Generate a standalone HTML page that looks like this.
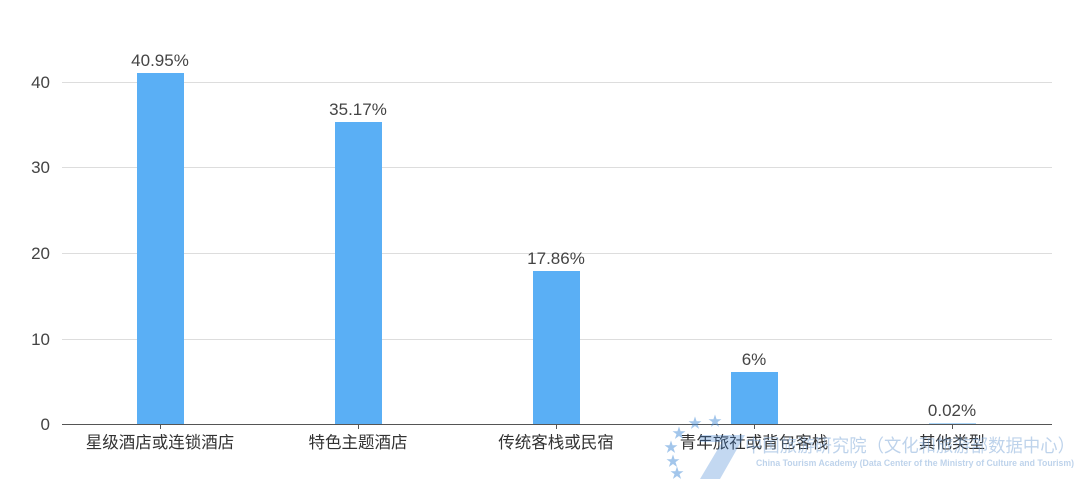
<!DOCTYPE html>
<html><head><meta charset="utf-8"><style>
html,body{margin:0;padding:0;background:#fff;}
svg{display:block;font-family:"Liberation Sans","Noto Sans CJK SC",sans-serif;}
</style></head><body>
<svg width="1080" height="479" viewBox="0 0 1080 479" xmlns="http://www.w3.org/2000/svg">
<g stroke="#dddddd" stroke-width="1">
<line x1="62" y1="82.5" x2="1052" y2="82.5"/>
<line x1="62" y1="167.5" x2="1052" y2="167.5"/>
<line x1="62" y1="253.5" x2="1052" y2="253.5"/>
<line x1="62" y1="339.5" x2="1052" y2="339.5"/>
</g>
<g font-size="17" fill="#444" text-anchor="end">
<text x="50" y="430">0</text>
<text x="50" y="345">10</text>
<text x="50" y="259">20</text>
<text x="50" y="173">30</text>
<text x="50" y="88">40</text>
</g>
<g fill="#5aaff5">
<rect x="137" y="73" width="47" height="351"/>
<rect x="335" y="122" width="47" height="302"/>
<rect x="533" y="271" width="47" height="153"/>
<rect x="731" y="372" width="47" height="52"/>
<rect x="929" y="423.5" width="47" height="0.5"/>
</g>
<line x1="62" y1="424.5" x2="1052" y2="424.5" stroke="#555" stroke-width="1"/>
<g stroke="#555">
<line x1="160.5" y1="424" x2="160.5" y2="429"/>
<line x1="358.5" y1="424" x2="358.5" y2="429"/>
<line x1="556.5" y1="424" x2="556.5" y2="429"/>
<line x1="754.5" y1="424" x2="754.5" y2="429"/>
<line x1="952.5" y1="424" x2="952.5" y2="429"/>
</g>
<g font-size="17" fill="#444" text-anchor="middle">
<text x="160" y="66">40.95%</text>
<text x="358" y="115">35.17%</text>
<text x="556" y="264">17.86%</text>
<text x="754" y="365">6%</text>
<text x="952" y="416">0.02%</text>
</g>
<g font-size="16.5" fill="#333" text-anchor="middle">
<text x="160" y="448">星级酒店或连锁酒店</text>
<text x="358" y="448">特色主题酒店</text>
<text x="556" y="448">传统客栈或民宿</text>
<text x="754" y="448">青年旅社或背包客栈</text>
<text x="952" y="448">其他类型</text>
</g>
<g opacity="0.5">
<g fill="#4a8fd8" font-size="14">
<text x="688" y="428">★</text><text x="708" y="426">★</text><text x="672" y="438">★</text>
<text x="664" y="452">★</text><text x="666" y="466">★</text><text x="670" y="478">★</text>
</g>
<path d="M700 435 L745 435 L720 479 L700 479 L722 442 L700 442Z" fill="#3a7fd0" opacity="0.6"/>
<text x="745" y="452" font-size="18" fill="#7fa8d8" textLength="330" lengthAdjust="spacingAndGlyphs">中国旅游研究院（文化和旅游部数据中心）</text>
<text x="756" y="466" font-size="9" font-weight="bold" fill="#7fa8d8" textLength="318" lengthAdjust="spacingAndGlyphs">China Tourism Academy (Data Center of the Ministry of Culture and Tourism)</text>
</g>
</svg>
</body></html>
